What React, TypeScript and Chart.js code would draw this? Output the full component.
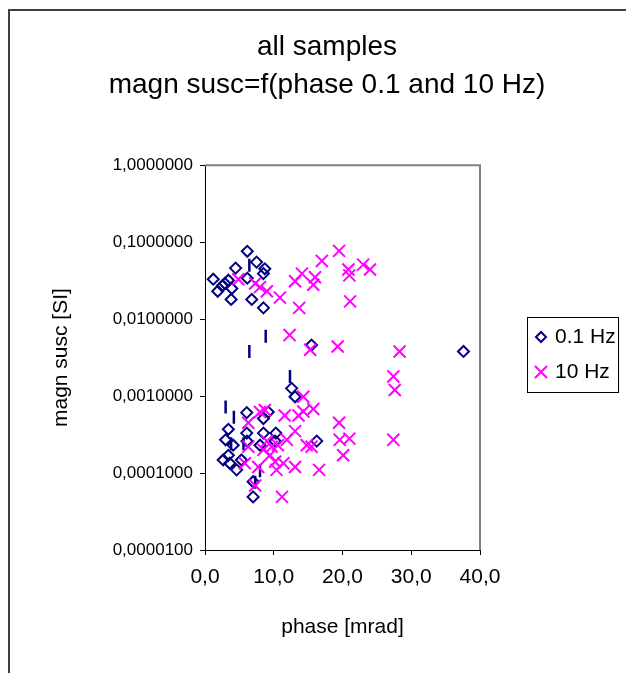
import React, { useEffect, useRef } from 'react';
import { Chart, registerables } from 'chart.js';

Chart.register(...registerables);

const TITLE_LINES = ['all samples', 'magn susc=f(phase 0.1 and 10 Hz)'];
const X_TITLE = 'phase [mrad]';
const Y_TITLE = 'magn susc [SI]';
const SERIES_NAMES = ['0.1 Hz', '10 Hz'];
const X_TICKS = [0, 10, 20, 30, 40];
const Y_TICKS = [0.00001, 0.0001, 0.001, 0.01, 0.1, 1];

// 0.1 Hz series
const phase01 = [
  6.15, 1.2, 1.85, 2.9, 3.4, 3.9, 3.8, 4.45, 7.5, 8.7, 8.5, 6.15, 6.8, 8.5, 2.5,
  15.5, 37.6, 12.6, 13.1,
  6.07, 3.4, 6.07, 8.5, 8.5, 10.3, 10.2, 16.25, 4.1, 8.0, 2.65, 3.4, 3.6, 4.6, 5.3, 7.0, 7.0, 9.2, 3.0, 6.1,
];
const susc01 = [
  0.076, 0.033, 0.023, 0.029, 0.032, 0.025, 0.018, 0.046, 0.055, 0.045, 0.039, 0.034, 0.018, 0.014, 0.027,
  0.0046, 0.0038, 0.00126, 0.00098,
  0.00061, 0.00037, 0.00033, 0.00051, 0.00033, 0.00033, 0.00026, 0.00026, 0.00023, 0.00023, 0.000148, 0.00017,
  0.000134, 0.00011, 0.000148, 0.000077, 0.000049, 0.00062, 0.00027, 0.00026,
];

// 10 Hz series
const phase10 = [
  19.5, 17.0, 20.85, 23.0, 24.0, 21.0, 14.1, 13.1, 16.0, 15.75, 21.1, 13.7, 10.9, 4.85, 7.3, 8.0, 9.0,
  12.3, 15.3, 19.3, 28.3, 27.4, 27.6,
  27.4, 19.5, 20.1, 21.0, 19.6, 15.75, 14.3, 14.3, 14.8, 15.5, 16.6, 8.7, 11.6, 13.6, 13.1, 8.5, 9.45, 6.3, 5.8,
  7.3, 10.2, 10.4, 11.4, 13.1, 11.2, 9.0, 9.7, 11.9, 10.6, 7.75, 8.0, 6.3,
];
const susc10 = [
  0.077, 0.057, 0.044, 0.051, 0.044, 0.037, 0.039, 0.031, 0.035, 0.028, 0.017, 0.014, 0.019, 0.033, 0.029, 0.026, 0.023,
  0.0062, 0.004, 0.0044, 0.0038, 0.0018, 0.0012,
  0.00027, 0.00045, 0.00017, 0.00028, 0.00027, 0.00068, 0.00098, 0.00063, 0.00023, 0.00022, 0.00011, 0.00066, 0.00056,
  0.00056, 0.00035, 0.0002, 0.00017, 0.00022, 0.000134, 0.000069, 0.00014, 0.00011, 0.000134, 0.00012, 0.000049,
  0.00026, 0.00022, 0.00027, 0.00023, 0.00012, 0.00062, 0.00045,
];

// unlabeled dash markers
const phaseDash = [6.45, 8.83, 6.45, 12.36, 3.0, 4.2, 3.8, 5.6, 8.0, 7.3];
const suscDash = [0.05, 0.006, 0.0038, 0.0018, 0.00072, 0.00053, 0.00024, 0.00024, 0.000107, 0.000076];

const NAVY = '#000080';
const MAGENTA = '#ff00ff';
const FONT = "'Liberation Sans', Arial, sans-serif";

const toPoints = (xs: number[], ys: number[]) => xs.map((x, i) => ({ x, y: ys[i] }));

const plotFrame = {
  id: 'plotFrame',
  afterDraw(chart: any) {
    const { ctx, chartArea } = chart;
    ctx.save();
    ctx.strokeStyle = '#808080';
    ctx.lineWidth = 2;
    ctx.beginPath();
    ctx.moveTo(chartArea.left, chartArea.top);
    ctx.lineTo(chartArea.right, chartArea.top);
    ctx.lineTo(chartArea.right, chartArea.bottom);
    ctx.stroke();
    ctx.restore();
  },
};

const legendBox = {
  id: 'legendBox',
  afterDraw(chart: any) {
    const { ctx, chartArea } = chart;
    const left = chartArea.right + 47;
    const top = 317;
    const w = 91;
    const h = 75;
    ctx.save();
    ctx.strokeStyle = '#000';
    ctx.lineWidth = 1;
    ctx.strokeRect(left + 0.5, top + 0.5, w, h);
    const mx = left + 14;
    const tx = left + 28;
    const y1 = top + 20;
    const y2 = top + 55;
    ctx.strokeStyle = NAVY;
    ctx.lineWidth = 2;
    ctx.beginPath();
    ctx.moveTo(mx - 5, y1);
    ctx.lineTo(mx, y1 - 5);
    ctx.lineTo(mx + 5, y1);
    ctx.lineTo(mx, y1 + 5);
    ctx.closePath();
    ctx.stroke();
    ctx.strokeStyle = MAGENTA;
    ctx.beginPath();
    ctx.moveTo(mx - 6, y2 - 6);
    ctx.lineTo(mx + 6, y2 + 6);
    ctx.moveTo(mx + 6, y2 - 6);
    ctx.lineTo(mx - 6, y2 + 6);
    ctx.stroke();
    ctx.fillStyle = '#000';
    ctx.font = `21px ${FONT}`;
    ctx.textBaseline = 'middle';
    ctx.textAlign = 'left';
    ctx.fillText(SERIES_NAMES[0], tx, y1);
    ctx.fillText(SERIES_NAMES[1], tx, y2);
    ctx.restore();
  },
};

export default function App() {
  const ref = useRef<HTMLCanvasElement | null>(null);

  useEffect(() => {
    if (!ref.current) return;
    Chart.defaults.font.family = FONT;
    Chart.defaults.color = '#000';
    const chart = new Chart(ref.current, {
      type: 'scatter',
      data: {
        datasets: [
          {
            label: SERIES_NAMES[1],
            data: toPoints(phase10, susc10),
            pointStyle: 'crossRot',
            pointRadius: 8.5,
            borderColor: MAGENTA,
            backgroundColor: MAGENTA,
            pointBorderWidth: 2,
            order: 1,
          },
          {
            label: SERIES_NAMES[0],
            data: toPoints(phase01, susc01),
            pointStyle: 'rectRot',
            pointRadius: 5.5,
            borderColor: NAVY,
            backgroundColor: 'rgba(0,0,0,0)',
            pointBorderWidth: 2,
            order: 2,
          },
          {
            label: 'dash',
            data: toPoints(phaseDash, suscDash),
            pointStyle: 'line',
            rotation: 90,
            pointRadius: 6.5,
            borderColor: NAVY,
            backgroundColor: NAVY,
            pointBorderWidth: 2.5,
            order: 3,
          } as any,
        ],
      },
      options: {
        responsive: false,
        animation: false,
        events: [],
        layout: { padding: { left: 28, right: 0, top: 0, bottom: 0 } },
        plugins: {
          legend: { display: false },
          tooltip: { enabled: false },
          title: {
            display: true,
            text: TITLE_LINES,
            color: '#000',
            font: { size: 28, weight: 'normal', lineHeight: 1.36, family: FONT },
            padding: { top: 28, bottom: 61 },
          },
        },
        scales: {
          x: {
            type: 'linear',
            position: 'bottom',
            min: 0,
            max: 40,
            afterFit: (s: any) => { s.height = 123; },
            afterBuildTicks: (s: any) => { s.ticks = X_TICKS.map((v) => ({ value: v })); },
            ticks: {
              font: { size: 21 },
              padding: 10,
              color: '#000',
              callback: (v: any) => Number(v).toFixed(1).replace('.', ','),
            },
            grid: { drawOnChartArea: false, drawTicks: true, tickLength: 5, color: '#000' },
            border: { color: '#000', width: 1 },
            title: { display: true, text: X_TITLE, font: { size: 21 }, color: '#000', padding: { top: 0, bottom: 33 } },
          },
          y: {
            type: 'logarithmic',
            position: 'left',
            min: 0.00001,
            max: 1,
            afterFit: (s: any) => { s.width = 177; },
            afterBuildTicks: (s: any) => { s.ticks = Y_TICKS.map((v) => ({ value: v, major: true })); },
            ticks: {
              font: { size: 17 },
              padding: 7,
              color: '#000',
              autoSkip: false,
              callback: (v: any) => Number(v).toFixed(7).replace('.', ','),
            },
            grid: { drawOnChartArea: false, drawTicks: true, tickLength: 5, color: '#000' },
            border: { color: '#000', width: 1 },
            title: { display: true, text: Y_TITLE, font: { size: 21 }, color: '#000', padding: { top: 21, bottom: 0 } },
          },
          spacer: {
            type: 'linear',
            position: 'right',
            display: true,
            afterFit: (s: any) => { s.width = 146; },
            ticks: { display: false },
            grid: { display: false, drawTicks: false },
            border: { display: false },
          },
        },
      } as any,
      plugins: [plotFrame, legendBox],
    });
    return () => chart.destroy();
  }, []);

  return (
    <div style={{ position: 'fixed', left: 0, top: 0, width: 626, height: 673, overflow: 'hidden', background: '#fff' }}>
      <canvas ref={ref} width={626} height={673} style={{ position: 'absolute', left: 0, top: 0 }} />
      <div
        style={{
          position: 'absolute',
          left: 8,
          top: 9,
          width: 640,
          height: 700,
          borderLeft: '2px solid #404040',
          borderTop: '2px solid #404040',
          pointerEvents: 'none',
        }}
      />
    </div>
  );
}
